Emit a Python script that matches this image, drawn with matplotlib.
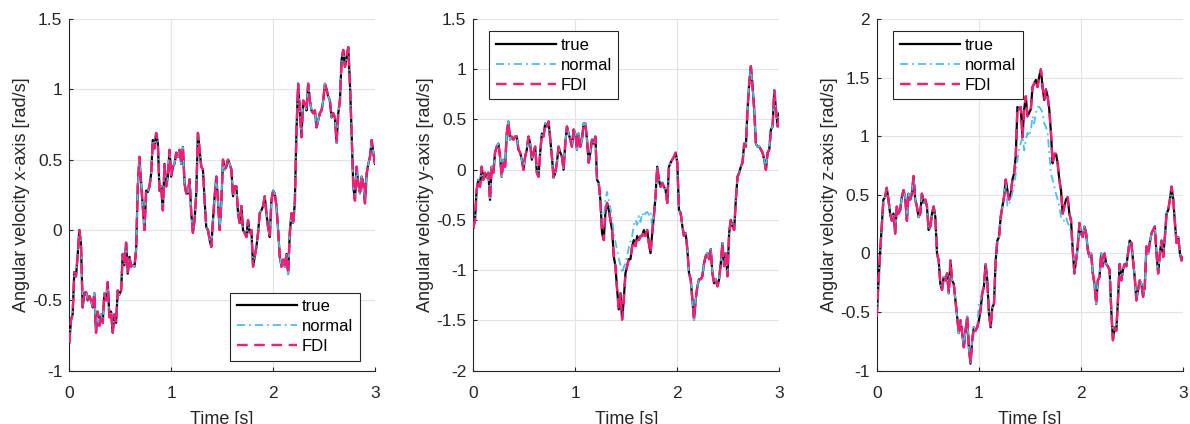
import numpy as np
import matplotlib
matplotlib.use("Agg")
import matplotlib.pyplot as plt
from matplotlib.ticker import FuncFormatter

plt.rcParams['font.family'] = ['Liberation Sans', 'DejaVu Sans']

# Angular velocity about the x-axis [rad/s]
true_x = [
    -0.80, -0.64, -0.60, -0.30, -0.33, -0.18, 0.00, -0.10, -0.55, -0.45,
    -0.44, -0.50, -0.47, -0.50, -0.55, -0.45, -0.73, -0.58, -0.68, -0.60,
    -0.66, -0.45, -0.50, -0.37, -0.62, -0.58, -0.73, -0.60, -0.66, -0.43,
    -0.46, -0.43, -0.17, -0.25, -0.09, -0.31, -0.19, -0.26, -0.25, -0.26,
    -0.14, 0.31, 0.52, 0.33, 0.17, 0.00, 0.28, 0.27, 0.31, 0.40,
    0.64, 0.58, 0.69, 0.62, 0.28, 0.31, 0.14, 0.47, 0.31, 0.38,
    0.57, 0.38, 0.45, 0.47, 0.55, 0.52, 0.57, 0.47, 0.59, 0.33,
    0.26, 0.26, 0.36, 0.12, -0.02, 0.07, 0.26, 0.69, 0.57, 0.45,
    0.43, 0.21, 0.02, 0.00, -0.07, -0.12, 0.07, 0.24, 0.38, 0.21,
    0.00, 0.19, 0.50, 0.43, 0.45, 0.50, 0.47, 0.43, 0.24, 0.31,
    0.31, 0.12, 0.05, 0.17, 0.00, -0.02, -0.05, 0.07, -0.02, 0.00,
    -0.26, -0.19, -0.12, -0.02, 0.12, 0.14, 0.17, 0.24, 0.12, 0.02,
    -0.05, 0.21, 0.28, 0.26, 0.17, 0.00, -0.19, -0.26, -0.21, -0.26,
    -0.17, -0.31, -0.02, 0.12, 0.05, 0.19, 0.71, 1.04, 0.85, 0.66,
    0.92, 0.90, 0.85, 1.04, 0.92, 0.85, 0.83, 0.85, 0.73, 0.78,
    0.83, 0.85, 0.92, 1.04, 1.00, 0.95, 0.92, 0.80, 0.83, 0.80,
    0.62, 0.83, 0.92, 1.21, 1.28, 1.16, 1.23, 1.30, 1.04, 0.69,
    0.31, 0.21, 0.45, 0.33, 0.26, 0.38, 0.33, 0.19, 0.40, 0.47,
    0.52, 0.64, 0.55, 0.47,
]
normal_x = list(true_x)
fdi_x = list(true_x)

# Angular velocity about the y-axis [rad/s]
true_y = [
    -0.58, -0.50, -0.20, -0.10, -0.17, 0.03, -0.10, -0.03, -0.08, -0.03,
    -0.30, 0.03, -0.03, 0.17, 0.23, 0.26, 0.13, -0.07, 0.10, 0.03,
    0.36, 0.48, 0.30, 0.33, 0.30, 0.33, 0.33, 0.20, 0.17, 0.10,
    0.00, 0.13, 0.20, 0.33, 0.26, 0.10, 0.17, 0.23, -0.03, -0.07,
    0.17, 0.36, 0.33, 0.46, 0.43, 0.48, 0.30, 0.13, -0.08, -0.03,
    0.07, 0.23, 0.17, 0.13, 0.00, 0.26, 0.43, 0.36, 0.30, 0.23,
    0.40, 0.36, 0.20, 0.36, 0.23, 0.30, 0.46, 0.46, 0.30, 0.07,
    0.17, 0.30, 0.26, 0.33, -0.10, -0.13, -0.30, -0.63, -0.70, -0.43,
    -0.33, -0.40, -0.50, -0.60, -0.86, -0.96, -1.19, -1.39, -1.23, -1.49,
    -1.29, -1.03, -0.96, -0.89, -0.89, -0.76, -0.70, -0.76, -0.66, -0.70,
    -0.66, -0.66, -0.60, -0.66, -0.60, -0.73, -0.83, -0.63, -0.46, -0.26,
    0.03, -0.10, -0.17, -0.13, -0.17, -0.20, -0.33, 0.03, 0.07, 0.10,
    0.13, 0.17, 0.07, -0.40, -0.43, -0.56, -0.66, -0.63, -0.79, -1.03,
    -1.09, -1.29, -1.49, -1.29, -1.16, -1.09, -1.09, -1.06, -0.93, -0.86,
    -0.83, -0.89, -0.79, -1.03, -1.13, -1.09, -1.16, -1.09, -0.93, -0.73,
    -0.96, -0.83, -1.06, -0.63, -0.50, -0.56, -0.60, -0.30, -0.07, -0.03,
    0.03, 0.07, 0.26, 0.23, 0.60, 0.86, 1.03, 0.83, 0.60, 0.26,
    0.23, 0.23, 0.20, 0.17, 0.10, 0.00, 0.17, 0.20, 0.40, 0.43,
    0.79, 0.60, 0.43, 0.56,
]
normal_y_start = 76
normal_y_segment = [
    -0.30, -0.55, -0.50, -0.30, -0.22, -0.30, -0.38, -0.50, -0.62, -0.72,
    -0.80, -0.88, -0.95, -1.03, -0.97, -0.93, -0.85, -0.78, -0.72, -0.66,
    -0.55, -0.50, -0.55, -0.46, -0.52, -0.43, -0.47, -0.43, -0.42, -0.45,
    -0.42, -0.58, -0.46,
]
normal_y = list(true_y)
normal_y[normal_y_start:normal_y_start + len(normal_y_segment)] = normal_y_segment
fdi_y = list(true_y)

# Angular velocity about the z-axis [rad/s]
true_z = [
    -0.54, -0.26, 0.00, 0.23, 0.46, 0.48, 0.56, 0.46, 0.34, 0.28,
    0.34, 0.17, 0.40, 0.34, 0.37, 0.48, 0.54, 0.48, 0.28, 0.51,
    0.46, 0.51, 0.66, 0.46, 0.40, 0.31, 0.34, 0.51, 0.43, 0.46,
    0.40, 0.20, 0.23, 0.34, 0.40, 0.31, 0.00, -0.06, -0.26, -0.31,
    -0.20, -0.23, -0.17, -0.34, -0.06, -0.23, -0.26, -0.40, -0.54, -0.68,
    -0.57, -0.68, -0.80, -0.66, -0.54, -0.80, -0.94, -0.74, -0.63, -0.66,
    -0.63, -0.57, -0.48, -0.34, -0.28, -0.09, -0.23, -0.51, -0.63, -0.46,
    -0.43, -0.06, 0.11, 0.14, 0.31, 0.40, 0.48, 0.63, 0.54, 0.46,
    0.51, 0.63, 0.68, 0.83, 1.25, 1.23, 1.25, 0.99, 1.23, 1.34,
    1.17, 1.20, 1.23, 1.42, 1.45, 1.48, 1.42, 1.51, 1.57, 1.42,
    1.31, 1.40, 1.34, 1.23, 1.03, 0.77, 0.85, 0.85, 0.77, 0.63,
    0.54, 0.34, 0.40, 0.46, 0.48, 0.34, 0.28, 0.03, -0.17, -0.06,
    0.06, 0.26, 0.17, 0.14, 0.23, 0.17, 0.03, -0.03, 0.00, -0.17,
    -0.26, -0.43, -0.23, -0.20, 0.00, -0.11, 0.00, -0.09, -0.11, -0.14,
    -0.48, -0.74, -0.63, -0.66, -0.40, -0.09, -0.23, -0.14, -0.09, -0.11,
    0.00, 0.11, 0.09, -0.06, -0.20, -0.40, -0.31, -0.23, -0.26, -0.37,
    -0.28, 0.06, 0.00, 0.09, 0.17, 0.20, 0.23, 0.00, -0.17, 0.00,
    0.11, -0.03, 0.14, 0.34, 0.37, 0.46, 0.57, 0.46, 0.26, 0.09,
    0.14, 0.00, -0.06, -0.03,
]
normal_z_start_a = 61
normal_z_segment_a = [-0.43, -0.40, -0.32]
normal_z_start_b = 78
normal_z_segment_b = [
    0.40, 0.42, 0.46, 0.52, 0.57, 0.68, 0.80, 0.90, 0.94, 1.00,
    0.88, 0.97, 1.03, 1.00, 1.05, 1.17, 1.11, 1.20, 1.25, 1.25,
    1.23, 1.20, 1.11, 1.08, 1.03, 0.85, 0.68, 0.63, 0.57, 0.51,
    0.46, 0.40, 0.31, 0.28, 0.28, 0.31, 0.26, 0.23, 0.17,
]
normal_z = list(true_z)
normal_z[normal_z_start_a:normal_z_start_a + len(normal_z_segment_a)] = normal_z_segment_a
normal_z[normal_z_start_b:normal_z_start_b + len(normal_z_segment_b)] = normal_z_segment_b
fdi_z = list(true_z)

series_names = ["true", "normal", "FDI"]
ylabels = [
    "Angular velocity x-axis [rad/s]",
    "Angular velocity y-axis [rad/s]",
    "Angular velocity z-axis [rad/s]",
]
ylims = [(-1, 1.5), (-2, 1.5), (-1, 2)]
xticks = [0, 1, 2, 3]

c_true = "#000000"
c_normal = "#4DBEEE"
c_fdi = "#FF1A75"
axis_col = "#262626"

fig = plt.figure(figsize=(11.9, 4.24), dpi=100)

lefts = [69.3 / 1190, 473.3 / 1190, 876.7 / 1190]
widths = [305.7 / 1190, 306.0 / 1190, 306.6 / 1190]
bottom = (424 - 370.7) / 424
height = (370.7 - 19) / 424

legend_cfg = [
    dict(loc="lower right", bbox_to_anchor=(0.951, 0.028)),
    dict(loc="upper left", bbox_to_anchor=(0.051, 0.966)),
    dict(loc="upper left", bbox_to_anchor=(0.053, 0.966)),
]

data = [
    (true_x, normal_x, fdi_x),
    (true_y, normal_y, fdi_y),
    (true_z, normal_z, fdi_z),
]


def fmt(v, _pos):
    s = f"{v:g}"
    return "0" if s in ("-0", "0") else s


for i, (tr, nm, fd) in enumerate(data):
    ax = fig.add_axes([lefts[i], bottom, widths[i], height])
    t = np.linspace(0, 3, len(tr))
    ax.plot(t, tr, color=c_true, lw=1.6, label=series_names[0], zorder=3)
    ax.plot(t, nm, color=c_normal, lw=1.3, dashes=(4.5, 2.2, 1.0, 2.2),
            label=series_names[1], zorder=4)
    ax.plot(t, fd, color=c_fdi, lw=1.7, dashes=(4.5, 2.8),
            label=series_names[2], zorder=5)

    lo, hi = ylims[i]
    ax.set_xlim(0, 3)
    ax.set_ylim(lo, hi)
    ax.set_xticks(xticks)
    ax.set_yticks(np.arange(lo, hi + 0.01, 0.5))
    ax.yaxis.set_major_formatter(FuncFormatter(fmt))
    ax.xaxis.set_major_formatter(FuncFormatter(fmt))
    ax.grid(True, color="#e3e3e3", lw=0.8)
    ax.set_axisbelow(True)
    for side in ("top", "right"):
        ax.spines[side].set_visible(False)
    for side in ("left", "bottom"):
        ax.spines[side].set_color(axis_col)
        ax.spines[side].set_linewidth(0.8)
    ax.tick_params(direction="in", length=3, width=0.8, colors=axis_col,
                   labelsize=12.5, labelcolor=axis_col, pad=5)
    ax.tick_params(axis="x", pad=11)
    ax.set_xlabel("Time [s]", fontsize=13, color=axis_col, labelpad=7)
    ax.set_ylabel(ylabels[i], fontsize=13, color=axis_col, labelpad=1.5)

    leg = ax.legend(fontsize=12, frameon=True, fancybox=False,
                    edgecolor=axis_col, framealpha=1, borderaxespad=0,
                    handlelength=3.6, handletextpad=0.3, labelspacing=0.3,
                    borderpad=0.4, **legend_cfg[i])
    leg.get_frame().set_linewidth(0.8)
    leg.set_zorder(10)

fig.savefig("out.png", dpi=100)
